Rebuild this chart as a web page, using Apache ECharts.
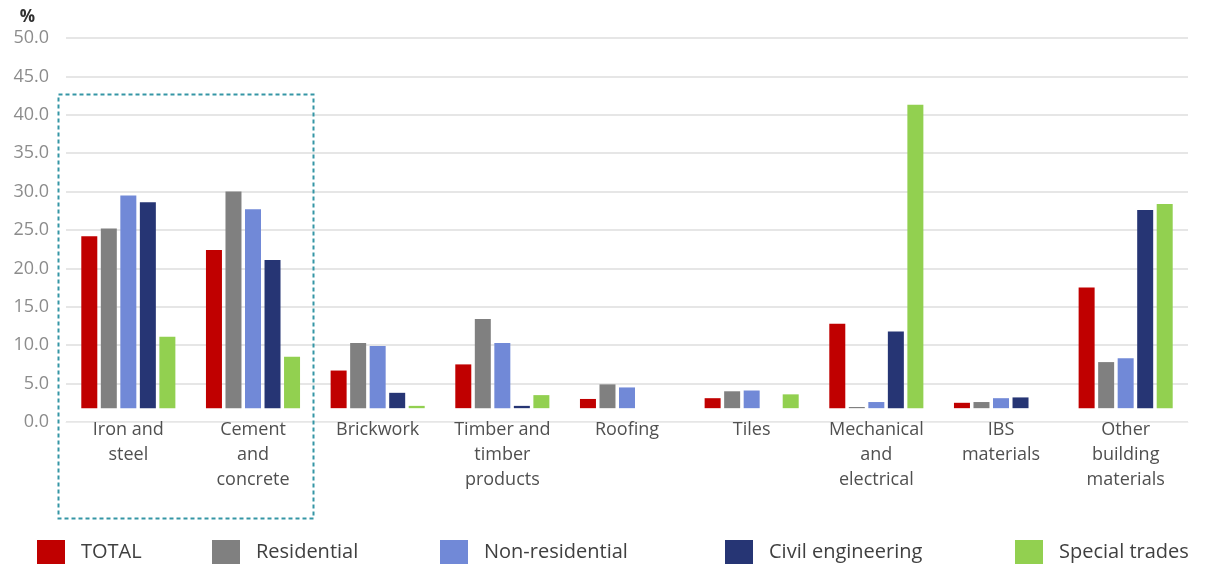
<!DOCTYPE html>
<html>
<head>
<meta charset="utf-8">
<script src="https://cdn.jsdelivr.net/npm/echarts@6/dist/echarts.min.js"></script>
<style>
  html, body { margin: 0; padding: 0; background: #ffffff; }
  #chart { width: 1207px; height: 569px; }
</style>
</head>
<body>
<div id="chart"></div>
<script>
// Material categories (x axis)
const categories = [
  'Iron and\nsteel',
  'Cement\nand\nconcrete',
  'Brickwork',
  'Timber and\ntimber\nproducts',
  'Roofing',
  'Tiles',
  'Mechanical\nand\nelectrical',
  'IBS\nmaterials',
  'Other\nbuilding\nmaterials'
];

// Share of material cost by sub-sector (%)
const total          = [24.2, 22.4, 6.7, 7.5, 3.0, 3.1, 12.8, 2.5, 17.5];
const residential    = [25.2, 30.0, 10.3, 13.4, 4.9, 4.0, 1.95, 2.6, 7.8];
const nonResidential = [29.5, 27.7, 9.9, 10.3, 4.5, 4.1, 2.6, 3.1, 8.3];
const civil          = [28.6, 21.1, 3.8, 2.1, null, null, 11.8, 3.2, 27.6];
const specialTrades  = [11.1, 8.5, 2.1, 3.5, null, 3.6, 41.3, null, 28.4];

const seriesNames = ['TOTAL', 'Residential', 'Non-residential', 'Civil engineering', 'Special trades'];
const seriesData  = [total, residential, nonResidential, civil, specialTrades];
const seriesColors = ['#c00000', '#808080', '#7189d7', '#263574', '#92d050'];

// y axis ticks
const yMin = 0, yMax = 50, yStep = 5;
// value where the category axis crosses the value axis
const axisCross = 1.8;

const font = '"Open Sans", "Noto Sans", sans-serif';

const chart = echarts.init(document.getElementById('chart'), null, { renderer: 'canvas' });

const legendLeft = [32, 207, 435, 720, 1010];

const option = {
  backgroundColor: '#ffffff',
  animation: false,
  grid: { left: 66, right: 19, top: 38, bottom: 147 },
  legend: seriesNames.map((name, i) => ({
    data: [name],
    left: legendLeft[i],
    top: 535,
    itemWidth: 28,
    itemHeight: 24,
    icon: 'rect',
    textStyle: { fontFamily: font, fontSize: 20, color: '#404040', padding: [0, 0, 0, 11] },
    selectedMode: false
  })),
  xAxis: {
    type: 'category',
    data: categories,
    axisLine: { show: true, lineStyle: { color: '#ececec', width: 1 } },
    axisTick: { show: false },
    axisLabel: {
      interval: 0,
      margin: -5,
      fontFamily: font,
      fontSize: 18,
      lineHeight: 25,
      color: '#505050',
      align: 'center'
    }
  },
  yAxis: {
    type: 'value',
    min: yMin,
    max: yMax,
    interval: yStep,
    startValue: axisCross,
    name: '%',
    nameLocation: 'end',
    nameGap: 12,
    nameTextStyle: { fontFamily: font, fontSize: 17, fontWeight: 'bold', color: '#303030', align: 'right', padding: [0, 31, 0, 0] },
    axisLine: { show: false },
    axisTick: { show: false },
    axisLabel: {
      formatter: v => v.toFixed(1),
      fontFamily: font,
      fontSize: 18,
      color: '#8c8c8c',
      margin: 17
    },
    splitLine: { lineStyle: { color: '#e6e6e6', width: 2 } }
  },
  series: seriesNames.map((name, i) => ({
    name: name,
    type: 'bar',
    data: seriesData[i],
    barWidth: 16,
    barGap: '22%',
    itemStyle: { color: seriesColors[i] }
  })),
  graphic: [{
    type: 'rect',
    shape: { x: 58.5, y: 94.5, width: 255, height: 424 },
    style: { fill: 'none', stroke: '#3596a5', lineWidth: 2, lineDash: [4, 3] },
    z: 100
  }]
};

chart.setOption(option);
</script>
</body>
</html>
